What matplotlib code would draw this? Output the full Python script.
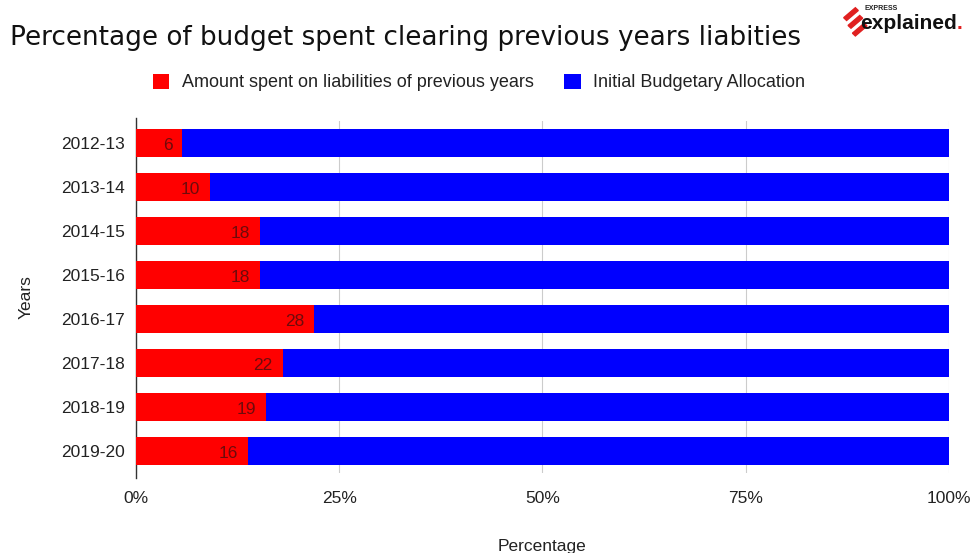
import matplotlib.pyplot as plt
from matplotlib.patches import Polygon
import numpy as np

plt.rcParams['font.family'] = ['Liberation Sans', 'DejaVu Sans']

years = ['2012-13', '2013-14', '2014-15', '2015-16', '2016-17', '2017-18', '2018-19', '2019-20']
liabilities = [6, 10, 18, 18, 28, 22, 19, 16]
initial_alloc = [100, 100, 100, 100, 100, 100, 100, 100]
xticks = [0, 25, 50, 75, 100]

# 100% stacked: each row normalised by its total
liab = np.array(liabilities, dtype=float)
init = np.array(initial_alloc, dtype=float)
total = liab + init
liab_pct = liab / total * 100
init_pct = init / total * 100

fig = plt.figure(figsize=(9.72, 5.53), dpi=100)
ax = fig.add_axes([0.1399, 0.1447, 0.8364, 0.6365])

y = np.arange(len(years))
ax.barh(y, liab_pct, height=0.64, color='#ff0000', zorder=3,
        label='Amount spent on liabilities of previous years')
ax.barh(y, init_pct, left=liab_pct, height=0.64, color='#0000ff', zorder=3,
        label='Initial Budgetary Allocation')

# value labels at the inner end of the red segment
for yi, w, v in zip(y, liab_pct, liabilities):
    ax.annotate(str(v), (w, yi), xytext=(-7, -1.5), textcoords='offset points',
                ha='right', va='center', fontsize=12.5, color='#6e0b0b', zorder=4)

ax.set_ylim(len(years) - 0.5, -0.5)
ax.set_xlim(0, 100)
ax.set_yticks(y)
ax.set_yticklabels(years, fontsize=12.5, color='#222222')
ax.set_xticks(xticks)
ax.set_xticklabels([f'{t}%' for t in xticks], fontsize=12.5, color='#222222')
ax.tick_params(axis='y', length=0, pad=8)
ax.tick_params(axis='x', length=0, pad=13)
ax.grid(axis='x', color='#cccccc', linewidth=0.8, zorder=0)

for s in ['top', 'right', 'bottom']:
    ax.spines[s].set_visible(False)
ax.spines['left'].set_color('#333333')
ax.spines['left'].set_linewidth(1.0)
ax.spines['left'].set_bounds(-0.56, len(years) - 0.38)

ax.set_xlabel('Percentage', fontsize=12.5, color='#222222', labelpad=24)
ax.set_ylabel('Years', fontsize=12.5, color='#222222', labelpad=20)

fig.text(0.010, 0.932, 'Percentage of budget spent clearing previous years liabities',
         fontsize=18.9, color='#111111', va='center', ha='left',
         family=['DejaVu Sans'])

leg = fig.legend(loc='center', bbox_to_anchor=(0.493, 0.851), ncol=2, frameon=False,
                 fontsize=13, handlelength=0.9, handleheight=0.9, columnspacing=1.7,
                 handletextpad=0.7)
for t in leg.get_texts():
    t.set_color('#222222')

# logo
fig.text(0.889, 0.984, 'EXPRESS', fontsize=5, fontweight='bold', color='#222222',
         ha='left', va='center')
brand = fig.text(0.885, 0.958, 'explained', fontsize=15, fontweight='bold',
                 color='#111111', ha='left', va='center')
plt.annotate('.', xy=(1, 0.5), xycoords=brand, xytext=(0, 0),
             textcoords='offset points', ha='left', va='center', fontsize=15,
             fontweight='bold', color='#e02020')
for k in range(3):
    x0 = 0.868 + k * 0.0045
    y0 = 0.968 - k * 0.014
    fig.patches.append(Polygon([[x0, y0], [x0 + 0.012, y0 + 0.018],
                                [x0 + 0.015, y0 + 0.013], [x0 + 0.003, y0 - 0.005]],
                               closed=True, transform=fig.transFigure,
                               color='#e02020'))

fig.savefig('out.png', dpi=100, facecolor='white')
